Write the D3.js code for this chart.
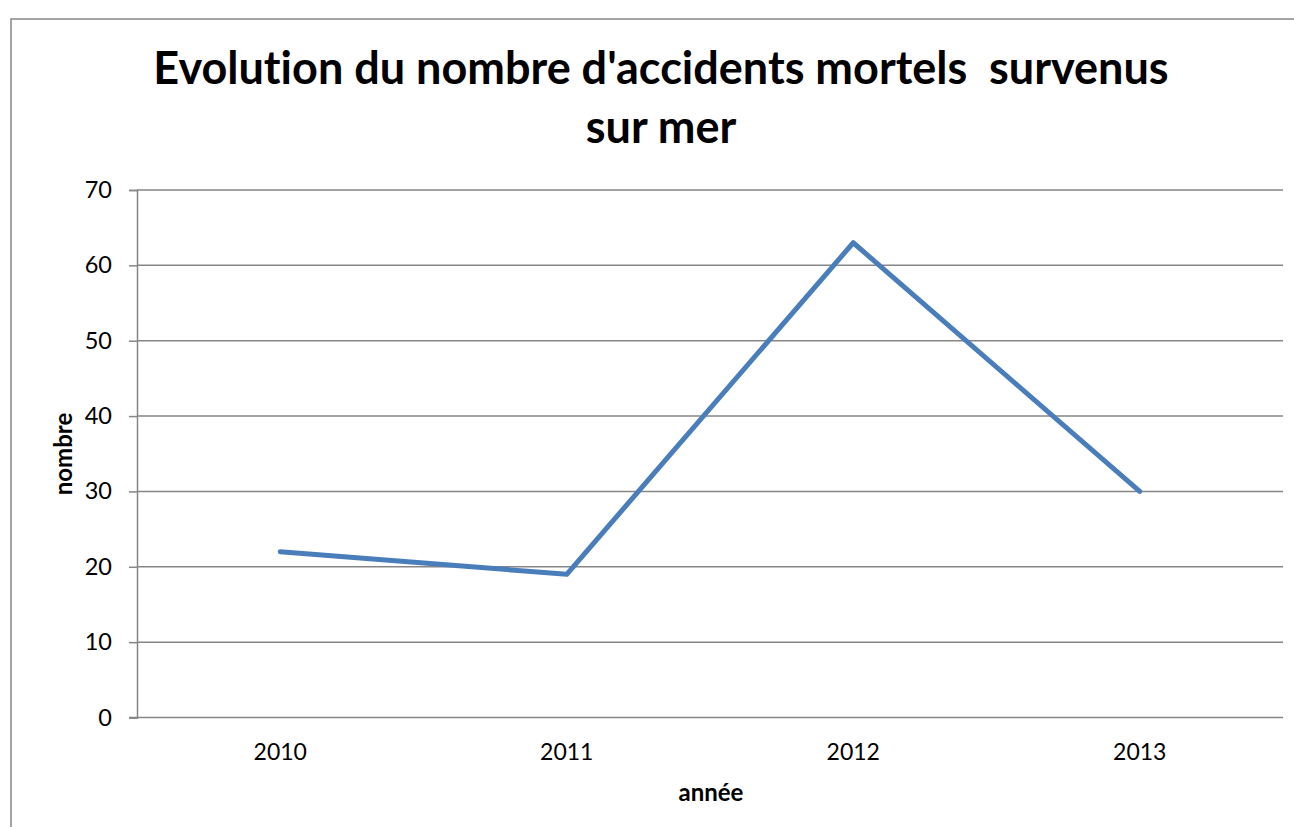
<!DOCTYPE html>
<html>
<head>
<meta charset="utf-8">
<script src="https://cdn.jsdelivr.net/npm/d3@7"></script>
<style>
  html, body { margin: 0; padding: 0; background: #fff; }
  svg { display: block; }
  text { font-variant-ligatures: none; }
</style>
</head>
<body>
<script>
// Annual count of fatal accidents at sea
const years = ["2010", "2011", "2012", "2013"];
const accidents = [22, 19, 63, 30];
const yTicks = [0, 10, 20, 30, 40, 50, 60, 70];
const titleLines = ["Evolution du nombre d'accidents mortels  survenus", "sur mer"];
const xTitle = "année";
const yTitle = "nombre";

const W = 1294, H = 827;
const plot = { left: 137, top: 190, right: 1283, bottom: 717.5 };
const font = "Lato, 'Open Sans', sans-serif";

const svg = d3.select("body").append("svg")
  .attr("width", W).attr("height", H);

// Chart frame
svg.append("rect")
  .attr("x", 11).attr("y", 19)
  .attr("width", W + 20).attr("height", H + 20)
  .attr("fill", "#fff")
  .attr("stroke", "#868686").attr("stroke-width", 1.5);

const x = d3.scaleBand().domain(years).range([plot.left, plot.right]).padding(0);
const y = d3.scaleLinear().domain([0, 70]).range([plot.bottom, plot.top]);

// Horizontal gridlines
svg.append("g")
  .selectAll("line")
  .data(yTicks.filter(d => d > 0))
  .join("line")
  .attr("x1", plot.left).attr("x2", plot.right)
  .attr("y1", d => y(d)).attr("y2", d => y(d))
  .attr("stroke", "#868686").attr("stroke-width", 1.5);

// Y axis
const yAxis = svg.append("g")
  .attr("transform", `translate(${plot.left},0)`)
  .call(d3.axisLeft(y).tickValues(yTicks).tickSize(8).tickPadding(17).tickFormat(d3.format("d")));
yAxis.select(".domain").attr("stroke", "#868686").attr("stroke-width", 1.5);
yAxis.selectAll(".tick line").attr("stroke", "#868686").attr("stroke-width", 1.5);
yAxis.selectAll(".tick text")
  .attr("font-family", font).attr("font-size", 23.5).attr("fill", "#000");

// X axis
const xAxis = svg.append("g")
  .attr("transform", `translate(0,${plot.bottom})`)
  .call(d3.axisBottom(x).tickSize(0).tickPadding(26));
xAxis.select(".domain").attr("stroke", "#868686").attr("stroke-width", 1.5)
  .attr("d", `M${plot.left - 8},0H${plot.right}`);
xAxis.selectAll(".tick text")
  .attr("font-family", font).attr("font-size", 23).attr("fill", "#000");

// Data line
const line = d3.line()
  .x((d, i) => x(years[i]) + x.bandwidth() / 2)
  .y(d => y(d));
svg.append("path")
  .datum(accidents)
  .attr("d", line)
  .attr("fill", "none")
  .attr("stroke", "#4A7EBB")
  .attr("stroke-width", 5)
  .attr("stroke-linecap", "round")
  .attr("stroke-linejoin", "round");

// Title
svg.append("text")
  .attr("x", 661).attr("y", 84)
  .attr("text-anchor", "middle")
  .attr("font-family", font).attr("font-weight", "bold").attr("font-size", 45)
  .attr("fill", "#000")
  .selectAll("tspan")
  .data(titleLines)
  .join("tspan")
  .attr("x", 661)
  .attr("dy", (d, i) => i === 0 ? 0 : 59)
  .style("white-space", "pre")
  .text(d => d);

// Axis titles
svg.append("text")
  .attr("x", 711).attr("y", 801)
  .attr("text-anchor", "middle")
  .attr("font-family", font).attr("font-weight", "bold").attr("font-size", 24)
  .text(xTitle);

svg.append("text")
  .attr("transform", "translate(72,454) rotate(-90)")
  .attr("text-anchor", "middle")
  .attr("font-family", font).attr("font-weight", "bold").attr("font-size", 24)
  .text(yTitle);
</script>
</body>
</html>
